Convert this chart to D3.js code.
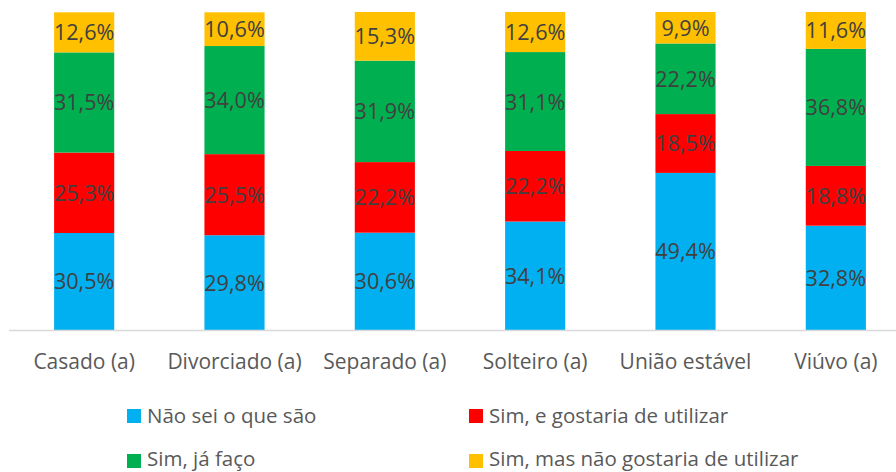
<!DOCTYPE html>
<html>
<head>
<meta charset="utf-8">
<script src="https://cdn.jsdelivr.net/npm/d3@7/dist/d3.min.js"></script>
<style>
  html, body { margin: 0; padding: 0; background: #fff; }
  svg { display: block; font-family: "Open Sans", "Liberation Sans", sans-serif; }
</style>
</head>
<body>
<svg id="chart" width="896" height="472"></svg>
<script>
// Estado civil
const categories = ["Casado (a)", "Divorciado (a)", "Separado (a)", "Solteiro (a)", "União estável", "Viúvo (a)"];

// Series (percent), stacked bottom to top
const seriesNames = ["Não sei o que são", "Sim, e gostaria de utilizar", "Sim, já faço", "Sim, mas não gostaria de utilizar"];
const naoSei      = [30.5, 29.8, 30.6, 34.1, 49.4, 32.8];
const simGostaria = [25.3, 25.5, 22.2, 22.2, 18.5, 18.8];
const simJaFaco   = [31.5, 34.0, 31.9, 31.1, 22.2, 36.8];
const simNaoGost  = [12.6, 10.6, 15.3, 12.6,  9.9, 11.6];
const seriesColors = ["#00B0F0", "#FF0000", "#00B050", "#FFC000"];

const seriesValues = [naoSei, simGostaria, simJaFaco, simNaoGost];
const rows = categories.map((c, i) => {
  const r = { cat: c };
  seriesNames.forEach((s, k) => { r[s] = seriesValues[k][i]; });
  return r;
});

const svg = d3.select("#chart");

const x = d3.scaleBand()
  .domain(categories)
  .range([9, 911])
  .paddingInner(0.6)
  .paddingOuter(0.3);

const y = d3.scaleLinear()
  .domain([0, 100])
  .range([330, 12]);

const stack = d3.stack().keys(seriesNames);
const stacked = stack(rows);

const layers = svg.append("g")
  .selectAll("g")
  .data(stacked)
  .join("g")
  .attr("fill", (d, i) => seriesColors[i]);

layers.selectAll("rect")
  .data(d => d)
  .join("rect")
  .attr("x", d => x(d.data.cat))
  .attr("width", x.bandwidth())
  .attr("y", d => y(d[1]))
  .attr("height", d => y(d[0]) - y(d[1]));

// Value labels centred in each segment
const fmt = v => v.toFixed(1).replace(".", ",") + "%";
layers.selectAll("text")
  .data(d => d.map(p => ({ p, key: d.key })))
  .join("text")
  .attr("x", d => x(d.p.data.cat) + x.bandwidth() / 2)
  .attr("y", d => (y(d.p[0]) + y(d.p[1])) / 2)
  .attr("dy", "0.37em")
  .attr("text-anchor", "middle")
  .attr("fill", "#404040")
  .attr("font-size", 21.6)
  .text(d => fmt(d.p.data[d.key]));

// Category axis
const axis = svg.append("g")
  .attr("transform", "translate(0,330)")
  .call(d3.axisBottom(x).tickSize(0).tickPadding(0));
axis.select(".domain")
  .attr("d", "M9,0.5H911")
  .attr("stroke", "#D9D9D9")
  .attr("stroke-width", 1.5);
axis.selectAll(".tick text")
  .attr("dy", null)
  .attr("y", 39)
  .attr("fill", "#595959")
  .attr("font-size", 21)
  .attr("font-family", "'Open Sans', sans-serif");

// Legend
const legendPos = [[127, 416], [469, 416], [127, 461], [469, 461]];
const legend = svg.append("g")
  .selectAll("g")
  .data(seriesNames)
  .join("g")
  .attr("transform", (d, i) => `translate(${legendPos[i][0]},${legendPos[i][1]})`);
legend.append("rect")
  .attr("x", 0).attr("y", -7)
  .attr("width", 14).attr("height", 14)
  .attr("fill", (d, i) => seriesColors[i]);
legend.append("text")
  .attr("x", 20)
  .attr("y", (d, i) => i < 2 ? 7 : 5)
  .attr("fill", "#595959")
  .attr("font-size", 20.5)
  .text(d => d);
</script>
</body>
</html>
